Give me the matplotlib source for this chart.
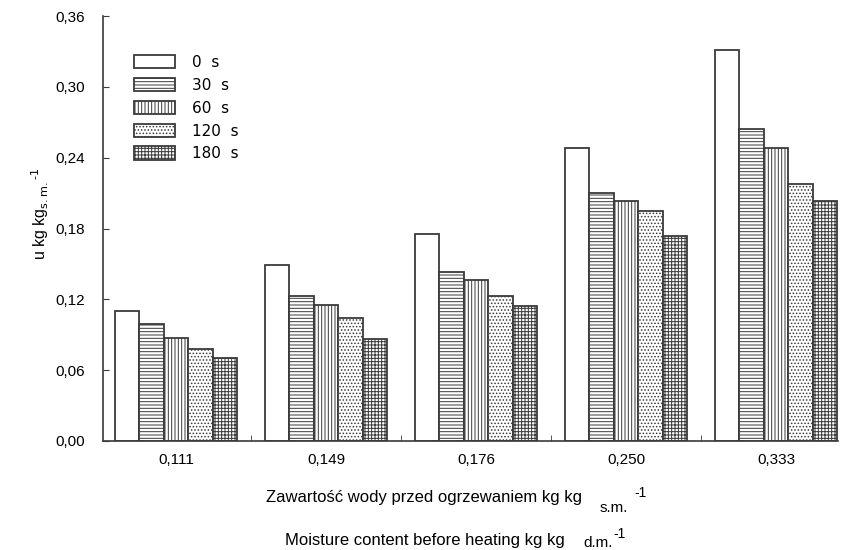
import matplotlib
matplotlib.use("Agg")
import matplotlib.pyplot as plt
import numpy as np
from matplotlib.patches import Patch

plt.rcParams['font.family'] = ['Liberation Sans', 'DejaVu Sans']
plt.rcParams['hatch.linewidth'] = 0.7

categories = ['0,111', '0,149', '0,176', '0,250', '0,333']
series_names = ['0 s', '30 s', '60 s', '120 s', '180 s']
values = {
    '0 s':   [0.110, 0.149, 0.175, 0.248, 0.331],
    '30 s':  [0.099, 0.123, 0.143, 0.210, 0.264],
    '60 s':  [0.087, 0.115, 0.136, 0.203, 0.248],
    '120 s': [0.078, 0.104, 0.123, 0.195, 0.218],
    '180 s': [0.070, 0.086, 0.114, 0.174, 0.203],
}
yticks = [0.0, 0.06, 0.12, 0.18, 0.24, 0.30, 0.36]
ytick_labels = ['0,00', '0,06', '0,12', '0,18', '0,24', '0,30', '0,36']

hatches = ['', '-----', '|||||', '.....', '+++++']
edge = '#3a3a3a'
W, H = 842, 550

fig = plt.figure(figsize=(8.42, 5.5), dpi=100)
ax = fig.add_axes([103/W, (H-441)/H, (838-103)/W, (441-16)/H])

x = np.arange(len(categories))
n = len(series_names)
width = 0.163
handles = []
for i, name in enumerate(series_names):
    offs = (i - (n - 1) / 2) * width
    ax.bar(x + offs, values[name], width, facecolor='white', edgecolor=edge,
           hatch=hatches[i], linewidth=1.3)
    handles.append(Patch(facecolor='white', edgecolor=edge, hatch=hatches[i],
                         linewidth=1.3, label=name.replace(' ', '  ')))

ax.set_xlim(-0.487, 4.413)
ax.set_ylim(0, 0.36)
ax.set_yticks(yticks)
ax.set_yticklabels(ytick_labels, fontsize=11)
ax.set_xticks(x)
ax.set_xticklabels(categories, fontsize=11)
ax.set_xticks(x[:-1] + 0.5, minor=True)
ax.tick_params(axis='x', which='major', length=0, pad=9)
ax.tick_params(axis='x', which='minor', direction='in', length=4, color=edge)
ax.tick_params(axis='y', direction='in', length=4, color=edge, pad=13)
for s in ['top', 'right']:
    ax.spines[s].set_visible(False)
for s in ['left', 'bottom']:
    ax.spines[s].set_color(edge)
    ax.spines[s].set_linewidth(1.2)

fig.text(40/W, 1 - 214/H, 'u kg kg$_{\\rm s.m.}$$^{\\rm \u2010 1}$', fontsize=11.5,
         rotation=90, ha='center', va='center')

leg = ax.legend(handles=handles, loc='upper left', bbox_to_anchor=(0.042, 0.909),
                frameon=False, prop={'family': 'DejaVu Sans', 'size': 11},
                handlelength=2.68, handleheight=0.98, handletextpad=1.1,
                labelspacing=0.52, borderaxespad=0, borderpad=0)

def ft(px, py, s, size):
    fig.text(px/W, 1 - py/H, s, ha='left', va='baseline', fontsize=size)

ft(266, 502, 'Zawartość wody przed ogrzewaniem kg kg', 12)
ft(600, 512, 's.m.', 11)
ft(634, 497, '-1', 10)
ft(285, 545, 'Moisture content before heating kg kg', 12)
ft(583, 547, 'd.m.', 11)
ft(613, 538, '-1', 10)

fig.savefig('out.png', dpi=100)
